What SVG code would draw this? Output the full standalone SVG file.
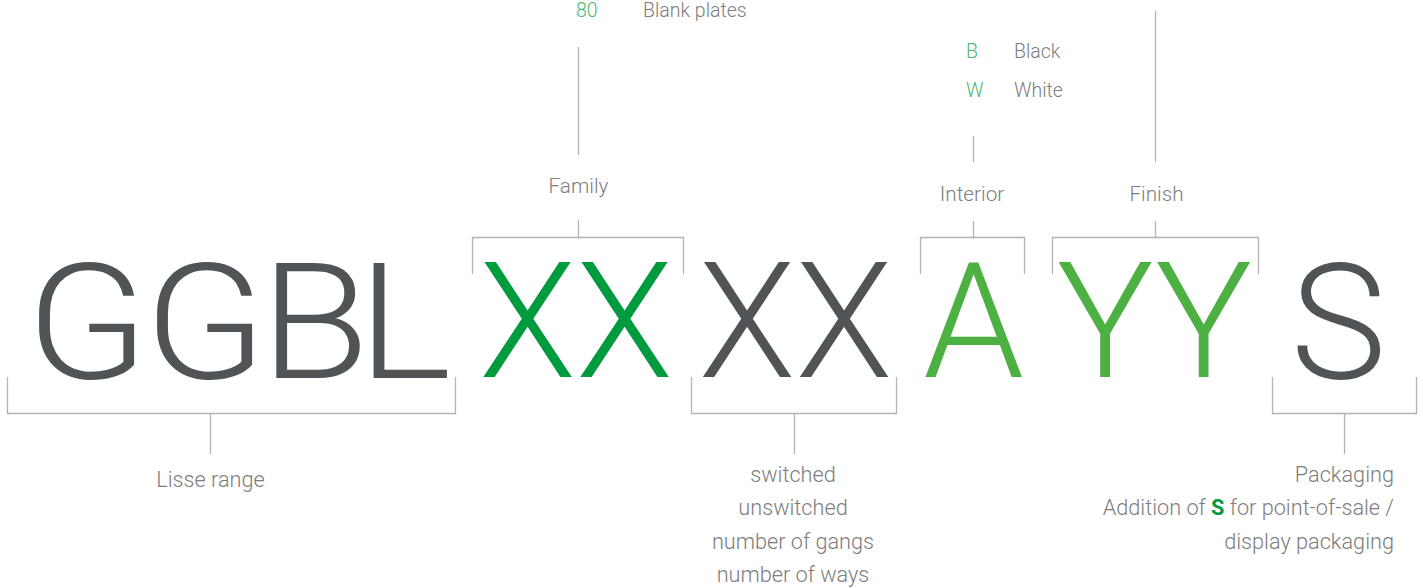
<svg xmlns="http://www.w3.org/2000/svg" width="1423" height="588" viewBox="0 0 1423 588">
<style>
.big{font-family:Roboto,"Liberation Sans",sans-serif;font-weight:300;font-size:162px;text-anchor:middle}
.dark{fill:#515457}
.g1{fill:#009a3f}
.g2{fill:#4cb142}
.lbl{font-family:Roboto,"Liberation Sans",sans-serif;font-weight:300;fill:#7d7d7d}
.top{font-size:20.7px}
.list{font-size:19.5px}
.bot{font-size:21.7px}
.mid{text-anchor:middle}
.end{text-anchor:end}
.code{fill:#4db86e}
.ln{stroke:#b3b3b3;stroke-width:1.3;fill:none}
</style>
<rect width="1423" height="588" fill="#ffffff"/>
<g id="connectors">
<path class="ln" d="M7.5,377 V413.5 H455.5 V377 M210.5,413.5 V454"/>
<path class="ln" d="M472.5,274 V237.5 H683.5 V274 M578.5,237.5 V220 M578.5,47 V155"/>
<path class="ln" d="M691.5,377 V413.5 H896.5 V377 M794.5,413.5 V454"/>
<path class="ln" d="M920.5,274 V237.5 H1024.5 V274 M973.5,237.5 V221 M973.5,136 V162"/>
<path class="ln" d="M1052.5,274 V237.5 H1258.5 V274 M1155.5,237.5 V221 M1155.5,11 V162"/>
<path class="ln" d="M1272.5,377 V413.5 H1416.5 V377 M1344.5,413.5 V454"/>
</g>
<g id="range">
<text class="big dark" transform="scale(1.1,1)" x="79.5 186.8 286.3 367.8" y="378">GGBL</text>
<text class="lbl bot mid" x="210.5" y="487">Lisse range</text>
</g>
<g id="family">
<text class="big g1" transform="scale(0.978,1)" x="589" y="377">XX</text>
<text class="lbl top mid" x="578.5" y="193">Family</text>
<text class="lbl list code" x="576" y="17">80</text>
<text class="lbl list" x="643" y="17">Blank plates</text>
</g>
<g id="function">
<text class="big dark" transform="scale(0.978,1)" x="813.3" y="377">XX</text>
<text class="lbl bot mid" x="793" y="482">switched</text>
<text class="lbl bot mid" x="793" y="515">unswitched</text>
<text class="lbl bot mid" x="793" y="549">number of gangs</text>
<text class="lbl bot mid" x="793" y="582">number of ways</text>
</g>
<g id="interior">
<text class="big g2" x="973.5" y="377">A</text>
<text class="lbl top mid" x="972" y="201">Interior</text>
<text class="lbl list code" x="966" y="58">B</text>
<text class="lbl list" x="1014" y="58">Black</text>
<text class="lbl list code" x="966" y="97">W</text>
<text class="lbl list" x="1014" y="97">White</text>
</g>
<g id="finish">
<text class="big g2" x="1154.5" y="377">YY</text>
<text class="lbl top mid" x="1156.5" y="201">Finish</text>
</g>
<g id="packaging">
<text class="big dark" x="1338.5" y="378">S</text>
<text class="lbl bot end" x="1394" y="482">Packaging</text>
<text class="lbl bot end" x="1394" y="515">Addition of <tspan font-weight="bold" fill="#009a3f">S</tspan> for point-of-sale /</text>
<text class="lbl bot end" x="1394" y="549">display packaging</text>
</g>
</svg>
